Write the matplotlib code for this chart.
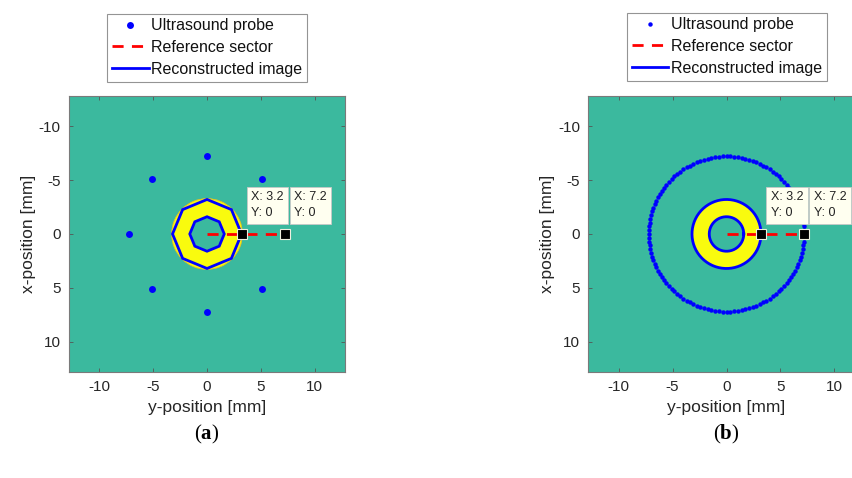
import numpy as np
import matplotlib.pyplot as plt
from matplotlib.patches import Wedge, Polygon

plt.rcParams['font.family'] = ['Liberation Sans', 'DejaVu Sans']
plt.rcParams['axes.unicode_minus'] = False
plt.rcParams['mathtext.fontset'] = 'custom'
plt.rcParams['mathtext.bf'] = 'Liberation Serif:bold'
plt.rcParams['mathtext.rm'] = 'Liberation Serif'

# Data
probe_radius = 7.2          # ring of ultrasound probes [mm]
n_probes = [8, 128]         # (a) sparse ring, (b) dense ring
ring_inner = 1.6            # inner radius of the annulus [mm]
ring_outer = 3.2            # outer radius of the annulus [mm]
ref_start = 0.0             # reference sector start [mm]
ref_end = 7.2               # reference sector end [mm]
tip_x = [3.2, 7.2]          # data tips along the sector
tip_y = [0, 0]
captions = ['a', 'b']
ticks = [-10, -5, 0, 5, 10]
lim = 12.8

green = '#3BB99E'
yellow = '#F9FB0E'

fig = plt.figure(figsize=(8.53, 4.78), dpi=100)
ax_pos = [[0.0809, 0.2218, 0.3236, 0.5774],
          [0.6899, 0.2218, 0.3236, 0.5774]]
leg_pos = [(0.2427, 0.9006), (0.8520, 0.9027)]
cap_x = [0.2427, 0.8520]

for k in range(2):
    ax = fig.add_axes(ax_pos[k])
    ax.set_facecolor(green)

    # probes on a ring
    ang = np.arange(n_probes[k]) * 2 * np.pi / n_probes[k]
    py = probe_radius * np.cos(ang)
    px = probe_radius * np.sin(ang)
    ms = 5 if k == 0 else 3.2
    h_probe, = ax.plot(py, px, 'o', color='#0000FF', markersize=ms,
                       markeredgewidth=0, label='Ultrasound probe')

    # annulus (target) and reconstructed contour
    if k == 0:
        ax.add_patch(Wedge((0, 0), ring_outer + 0.08, 0, 360,
                           width=ring_outer + 0.08 - 1.5,
                           facecolor=yellow, edgecolor='#E8C020', lw=0.6))
        oct_ang = np.arange(8) * 2 * np.pi / 8
        for r in [ring_outer, ring_inner]:
            verts = np.column_stack([r * np.cos(oct_ang), r * np.sin(oct_ang)])
            ax.add_patch(Polygon(verts, closed=True, fill=False,
                                 edgecolor='#0000FF', lw=2))
        h_rec, = ax.plot([], [], '-', color='#0000FF', lw=2,
                         label='Reconstructed image')
    else:
        ax.add_patch(Wedge((0, 0), ring_outer, 0, 360,
                           width=ring_outer - ring_inner,
                           facecolor=yellow, edgecolor='none'))
        t = np.linspace(0, 2 * np.pi, 200)
        for r in [ring_outer, ring_inner]:
            h_rec, = ax.plot(r * np.cos(t), r * np.sin(t), '-',
                             color='#0000FF', lw=2, label='Reconstructed image')

    # reference sector
    h_ref, = ax.plot([ref_start, ref_end], [0, 0], '--', color='#FF0000',
                     lw=2, dashes=(4, 3), label='Reference sector')

    # data tips
    for tx, ty in zip(tip_x, tip_y):
        ax.plot(tx, ty, 's', color='black', markersize=7,
                markeredgecolor='#F0F0E0', markeredgewidth=0.8, zorder=5)
        ax.annotate('X: %g\nY: %g' % (tx, ty), xy=(tx, ty),
                    xytext=(7, 10.5), textcoords='offset points',
                    fontsize=9, color='#222222', ha='left', va='bottom',
                    linespacing=1.5, family='Liberation Sans',
                    bbox=dict(boxstyle='square,pad=0.35', facecolor='#FFFFF0',
                              edgecolor='#C8C8C8', lw=0.6), zorder=6)

    ax.set_xlim(-lim, lim)
    ax.set_ylim(lim, -lim)
    ax.set_xticks(ticks)
    ax.set_yticks(ticks)
    ax.tick_params(direction='in', length=3, width=0.6, color='#555555',
                   labelsize=11, labelcolor='#262626', top=True, right=True,
                   pad=6)
    for s in ax.spines.values():
        s.set_color('#7A7A7A')
        s.set_linewidth(0.8)
    ax.set_xlabel('y-position [mm]', fontsize=12.5, color='#262626', labelpad=4)
    ax.set_ylabel('x-position [mm]', fontsize=12.5, color='#262626', labelpad=2)

    leg = ax.legend(handles=[h_probe, h_ref, h_rec], loc='center',
                    bbox_to_anchor=leg_pos[k], bbox_transform=fig.transFigure,
                    fontsize=11.5, frameon=True, fancybox=False,
                    edgecolor='#7A7A7A', handlelength=2.3, handletextpad=0.15,
                    labelspacing=0.42, borderpad=0.3, borderaxespad=0,
                    markerscale=1.0)
    leg.get_frame().set_linewidth(0.8)
    for txt in leg.get_texts():
        txt.set_color('#111111')

    fig.text(cap_x[k], 0.09, '($\\mathbf{%s}$)' % captions[k], ha='center',
             va='center', fontsize=15, family='Liberation Serif')

fig.savefig('out.png', dpi=100)
